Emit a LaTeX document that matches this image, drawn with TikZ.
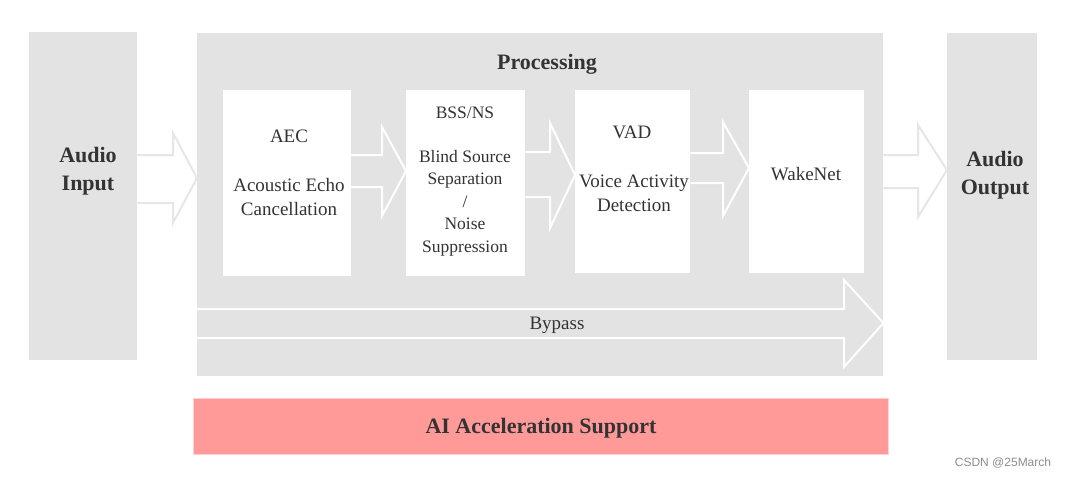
\documentclass[tikz,border=0pt]{standalone}
\usepackage{fontspec}
\setmainfont{Liberation Serif}
\setsansfont{Liberation Sans}
\usetikzlibrary{positioning,calc}

\definecolor{boxgrey}{HTML}{E3E3E3}
\definecolor{edgegrey}{HTML}{E6E6E6}
\definecolor{accpink}{HTML}{FF9A99}
\definecolor{accedge}{HTML}{FFD0CF}
\definecolor{txtgrey}{HTML}{333333}

\tikzset{
  greybox/.style={fill=boxgrey, draw=none, anchor=north west, inner sep=0pt},
  modbox/.style={fill=white, draw=none, anchor=north west, inner sep=0pt},
  boldlbl/.style={font=\fontsize{22}{28}\selectfont\bfseries, text=txtgrey, align=center},
  modlbl/.style={font=\fontsize{19}{24}\selectfont, text=txtgrey, align=center},
  smalllbl/.style={font=\fontsize{17.5}{22.5}\selectfont, text=txtgrey, align=center},
  flowout/.style={draw=edgegrey, fill=white, line width=2pt, line join=miter},
  flowin/.style={draw=white, line width=2pt, line join=miter}
}

\begin{document}
\begin{tikzpicture}[x=1pt,y=-1pt]
	\useasboundingbox (0,0) rectangle (1068,477);
	
	% outer blocks
	\node[greybox, minimum width=108, minimum height=328] (in) at (29,32) {};
	\node[greybox, minimum width=686, minimum height=343] (proc) at (197,33) {};
	\node[greybox, minimum width=90, minimum height=327] (out) at (947,33) {};
	\node[boldlbl] (inlbl) at (88,171) {Audio\\Input};
	\node[boldlbl] (outlbl) at (995,175) {Audio\\Output};
	\node[boldlbl] (proclbl) at (547,64) {Processing};
	
	% processing modules
	\node[modbox, minimum width=128, minimum height=186] (aec) at (223,90) {};
	\node[modbox, minimum width=119, minimum height=186] (bss) at (406,90) {};
	\node[modbox, minimum width=115, minimum height=183] (vad) at (575,90) {};
	\node[modbox, minimum width=115, minimum height=183] (wake) at (749,90) {};
	
	\node[modlbl] (aecname) at (289,136) {AEC};
	\node[modlbl] (aeclbl) at (289,197) {Acoustic Echo\\Cancellation};
	\node[smalllbl] (bssname) at (465,113) {BSS/NS};
	\node[smalllbl] (bsslbl) at (465,203) {Blind Source\\Separation\\/\\Noise\\Suppression};
	\node[modlbl] (vadname) at (632,132) {VAD};
	\node[modlbl] (vadlbl) at (634,193) {Voice Activity\\Detection};
	\node[modlbl] (wakelbl) at (806,174) {WakeNet};
	
	% block arrows
	\draw[flowout] (in.east |- 0,155) -- (173,155) -- (173,133) -- (proc.west |- 0,178)
		-- (173,223) -- (173,203) -- (in.east |- 0,203);
	\draw[flowin] (aec.east |- 0,155) -- (382,155) -- (382,127) -- (bss.west |- 0,171)
		-- (382,216) -- (382,187) -- (aec.east |- 0,187);
	\draw[flowin] (bss.east |- 0,152) -- (550,152) -- (550,123) -- (vad.west |- 0,175)
		-- (550,228) -- (550,197) -- (bss.east |- 0,197);
	\draw[flowin] (vad.east |- 0,153) -- (723,153) -- (723,122) -- (wake.west |- 0,168)
		-- (723,216) -- (723,183) -- (vad.east |- 0,183);
	\draw[flowout] (proc.east |- 0,155) -- (918,155) -- (918,125) -- (out.west |- 0,170)
		-- (918,217) -- (918,188) -- (proc.east |- 0,188);
	
	% bypass
	\draw[flowin] (proc.west |- 0,309) -- (844,309) -- (844,280) -- (proc.east |- 0,323)
		-- (844,367) -- (844,338) -- (proc.west |- 0,338);
	\node[modlbl] (bypass) at (557,325) {Bypass};
	
	% acceleration bar
	\node[fill=accpink, draw=accedge, line width=1pt, anchor=north west, inner sep=0pt,
		minimum width=695, minimum height=56] (ai) at (193,398) {};
	\node[boldlbl] (ailbl) at ($(ai.center)+(0,2)$) {AI Acceleration Support};
	
	\node[font=\sffamily\fontsize{12}{14}\selectfont, text=black!45] (mark) at (1003,463) {CSDN @25March};
\end{tikzpicture}
\end{document}
